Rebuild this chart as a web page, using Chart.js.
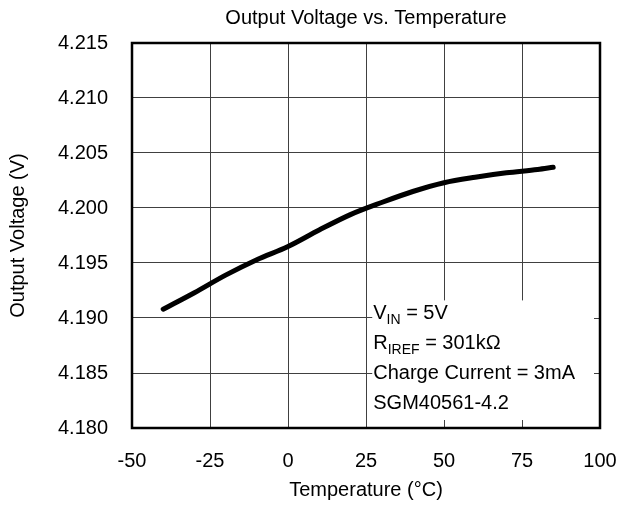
<!DOCTYPE html>
<html>
<head>
<meta charset="utf-8">
<script src="https://cdn.jsdelivr.net/npm/chart.js@4"></script>
<style>
  body { margin: 0; background: #fff; }
  #wrap { width: 621px; height: 506px; }
</style>
</head>
<body>
<div id="wrap"><canvas id="chart" width="621" height="506"></canvas></div>
<script>
const chartTitle = "Output Voltage vs. Temperature";
const xTitle = "Temperature (°C)";
const yTitle = "Output Voltage (V)";

// curve
const temps = [-40, -30, -20, -10, 0, 10, 20, 30, 40, 50, 60, 70, 80, 85];
const volts = [4.1908, 4.1923, 4.1939, 4.1953, 4.1965, 4.1980, 4.1994, 4.2005, 4.2015, 4.2023, 4.2028, 4.2032, 4.2035, 4.2037];

const xTicks = [-50, -25, 0, 25, 50, 75, 100];
const yTicks = [4.180, 4.185, 4.190, 4.195, 4.200, 4.205, 4.210, 4.215];

// conditions box text: [main, subscript, rest]
const noteLines = [
  ["V", "IN", " = 5V"],
  ["R", "IREF", " = 301kΩ"],
  ["Charge Current = 3mA", "", ""],
  ["SGM40561-4.2", "", ""]
];

const FONT = "'Liberation Sans', Arial, sans-serif";

// white box with the test conditions, covering the lower right of the grid
const notePlugin = {
  id: "noteBox",
  beforeDatasetsDraw(chart) {
    const { ctx, chartArea, scales } = chart;
    const left = scales.x.getPixelForValue(27);
    const top = scales.y.getPixelForValue(4.1916);
    ctx.save();
    ctx.fillStyle = "#fff";
    ctx.fillRect(left, top, chartArea.right - left, chartArea.bottom - top);

    // inner tick marks along bottom and right edges
    ctx.strokeStyle = "#404040";
    ctx.lineWidth = 1;
    ctx.beginPath();
    [50, 75].forEach(v => {
      const px = Math.round(scales.x.getPixelForValue(v)) + 0.5;
      ctx.moveTo(px, chartArea.bottom);
      ctx.lineTo(px, chartArea.bottom - 8);
    });
    [4.190, 4.185].forEach(v => {
      const py = Math.round(scales.y.getPixelForValue(v)) + 0.5;
      ctx.moveTo(chartArea.right, py);
      ctx.lineTo(chartArea.right - 6, py);
    });
    ctx.stroke();

    ctx.fillStyle = "#000";
    ctx.textBaseline = "alphabetic";
    let y = top + 19;
    noteLines.forEach(parts => {
      let x = left + 1;
      ctx.font = "20px " + FONT;
      ctx.fillText(parts[0], x, y);
      x += ctx.measureText(parts[0]).width;
      if (parts[1]) {
        ctx.font = "14px " + FONT;
        ctx.fillText(parts[1], x, y + 5);
        x += ctx.measureText(parts[1]).width;
      }
      ctx.font = "20px " + FONT;
      ctx.fillText(parts[2], x, y);
      y += 30;
    });
    ctx.restore();
  },
  afterDraw(chart) {
    const { ctx, chartArea } = chart;
    ctx.save();
    ctx.strokeStyle = "#000";
    ctx.lineWidth = 2.5;
    ctx.strokeRect(chartArea.left, chartArea.top, chartArea.right - chartArea.left, chartArea.bottom - chartArea.top);
    ctx.restore();
  }
};

// center the chart title over the plot area, like the original
const titleShift = {
  id: "titleShift",
  afterLayout(chart) {
    if (chart.titleBlock) {
      chart.titleBlock.left = chart.chartArea.left;
      chart.titleBlock.right = chart.chartArea.right;
    }
  }
};

new Chart(document.getElementById("chart"), {
  type: "line",
  data: {
    datasets: [{
      data: temps.map((t, i) => ({ x: t, y: volts[i] })),
      borderColor: "#000",
      borderWidth: 5,
      borderCapStyle: "round",
      pointRadius: 0,
      cubicInterpolationMode: "monotone",
      fill: false
    }]
  },
  options: {
    responsive: false,
    animation: false,
    layout: { padding: { top: 0, right: 21, bottom: 0, left: 0 } },
    plugins: {
      legend: { display: false },
      tooltip: { enabled: false },
      title: {
        display: true,
        text: chartTitle,
        color: "#000",
        font: { family: FONT, size: 20, weight: "normal" },
        padding: { top: 6, bottom: 13 }
      }
    },
    scales: {
      x: {
        type: "linear",
        min: -50,
        max: 100,
        afterBuildTicks: s => { s.ticks = xTicks.map(v => ({ value: v })); },
        afterFit: s => {
          s.height = 78;
          s.paddingLeft = 0;
          s.paddingRight = 0;
        },
        ticks: { color: "#000", padding: 21, font: { family: FONT, size: 20 } },
        grid: { color: "#404040", lineWidth: 1, drawTicks: false },
        border: { display: false },
        title: {
          display: true,
          text: xTitle,
          color: "#000",
          font: { family: FONT, size: 20 },
          padding: { top: 0, bottom: 4 }
        }
      },
      y: {
        type: "linear",
        min: 4.180,
        max: 4.215,
        afterBuildTicks: s => { s.ticks = yTicks.map(v => ({ value: v })); },
        afterFit: s => { s.width = 132; },
        ticks: {
          color: "#000",
          padding: 24,
          font: { family: FONT, size: 20 },
          callback: v => v.toFixed(3)
        },
        grid: { color: "#404040", lineWidth: 1, drawTicks: false },
        border: { display: false },
        title: {
          display: true,
          text: yTitle,
          color: "#000",
          font: { family: FONT, size: 20 },
          padding: { top: 6, bottom: 0 }
        }
      }
    }
  },
  plugins: [notePlugin, titleShift]
});
</script>
</body>
</html>
